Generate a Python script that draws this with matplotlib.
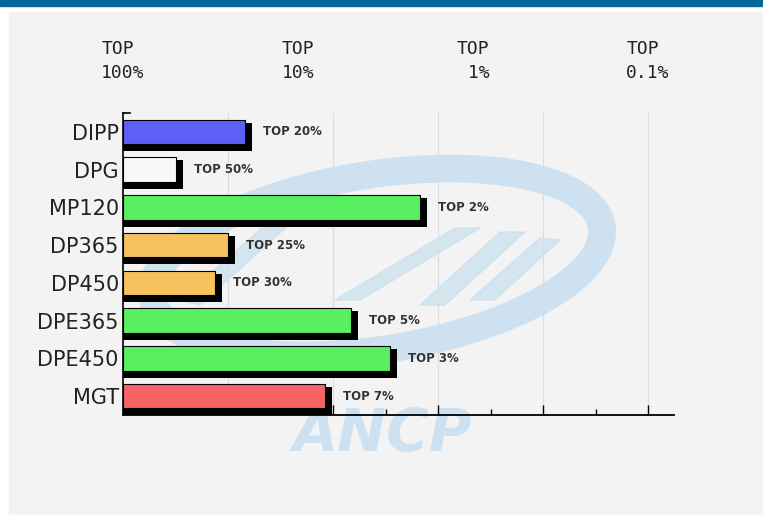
import numpy as np
import matplotlib
matplotlib.use("Agg")
import matplotlib.pyplot as plt
from matplotlib.patches import Rectangle, Ellipse, Polygon
from matplotlib.ticker import FixedLocator, NullFormatter
import matplotlib.transforms as mtransforms

# ---------------- data ----------------
categories = ["DIPP", "DPG", "MP120", "DP365", "DP450", "DPE365", "DPE450", "MGT"]
top_percent = [20, 50, 2, 25, 30, 5, 3, 7]          # "TOP x%" rank of each item
bar_labels = ["TOP 20%", "TOP 50%", "TOP 2%", "TOP 25%", "TOP 30%", "TOP 5%", "TOP 3%", "TOP 7%"]
bar_colors = ["#5f5ff8", "#f8f8f8", "#58f060", "#f5c25e", "#f5c25e", "#58f060", "#58f060", "#f86464"]
axis_percent = [100, 10, 1, 0.1]
axis_labels = ["TOP\n100%", "TOP\n10%", "TOP\n 1%", "TOP\n0.1%"]

W, H = 763, 518
fig = plt.figure(figsize=(W / 100, H / 100), dpi=100)

# ---------------- background / watermark ----------------
bg = fig.add_axes([0, 0, 1, 1])
bg.set_xlim(0, W)
bg.set_ylim(H, 0)
bg.axis("off")
bg.add_patch(Rectangle((0, 0), W, H, color="white", zorder=0))
bg.add_patch(Rectangle((0, 0), W, 5.5, color="#006699", zorder=1))
bg.add_patch(Rectangle((9, 12), W - 9, 502, color="#f3f3f3", zorder=1))

wm = "#c2dcef"
bg.add_patch(Ellipse((377, 262), 455, 175, angle=-9, fill=False,
                     edgecolor=wm, lw=20, alpha=0.75, zorder=2))
for pts in [
    [(335, 300), (360, 300), (480, 228), (455, 228)],
    [(420, 305), (445, 305), (525, 232), (500, 232)],
    [(470, 300), (495, 300), (560, 240), (540, 238)],
    [(180, 300), (200, 305), (300, 215), (280, 212)],
]:
    bg.add_patch(Polygon(pts, closed=True, color=wm, alpha=0.6, zorder=2))
bg.text(383, 434, "ANCP", fontsize=42, fontweight="bold", fontstyle="italic",
        color=wm, alpha=0.75, ha="center", va="center", zorder=2,
        family="DejaVu Sans")

# ---------------- main axes ----------------
left_px, right_px, top_px, bot_px = 123, 674, 113, 415
ax = fig.add_axes([left_px / W, 1 - bot_px / H, (right_px - left_px) / W,
                   (bot_px - top_px) / H])
ax.set_facecolor("none")
px_per_decade = 175.0
ax.set_xscale("log")
ax.set_xlim(100, 100 * 10 ** (-(right_px - left_px) / px_per_decade))
ax.set_ylim(len(categories) - 0.5, -0.5)

# grid lines and ticks every 0.6 decade, minor every 0.3 decade
major_d = np.arange(0.6, 3.01, 0.6)
minor_d = np.arange(0.3, 3.01, 0.6)
for d in major_d:
    ax.axvline(100 * 10 ** (-d), color="#dcdcdc", lw=0.8, zorder=0.5)
ax.xaxis.set_major_locator(FixedLocator(100 * 10 ** (-major_d)))
ax.xaxis.set_minor_locator(FixedLocator(100 * 10 ** (-minor_d)))
ax.xaxis.set_major_formatter(NullFormatter())
ax.xaxis.set_minor_formatter(NullFormatter())
ax.tick_params(axis="x", which="major", direction="in", length=7.5, width=1, color="black")
ax.tick_params(axis="x", which="minor", direction="in", length=4.5, width=1, color="black")
ax.yaxis.set_minor_locator(FixedLocator([]))

y = np.arange(len(categories))
bh = 0.65
vals = np.array(top_percent, dtype=float)

# shadows (3D extrusion)
for (dx, dy) in [(0, -7), (7, -3), (7, -7)]:
    tr = mtransforms.offset_copy(ax.transData, fig=fig, x=dx, y=dy, units="dots")
    for yi, v in zip(y, vals):
        r = Rectangle((100, yi - bh / 2), v - 100, bh, facecolor="black",
                      edgecolor="none", zorder=1.5, transform=tr)
        ax.add_patch(r)

ax.barh(y, vals - 100, left=100, height=bh, color=bar_colors,
        edgecolor="black", linewidth=0.8, zorder=2)

# bar value labels
lbl_tr = mtransforms.offset_copy(ax.transData, fig=fig, x=18, y=0, units="dots")
for yi, v, t in zip(y, vals, bar_labels):
    ax.text(v, yi, t, transform=lbl_tr, fontsize=8.5, fontweight="bold",
            color="#333333", ha="left", va="center", family="DejaVu Sans")

# y labels
ax.set_yticks(y)
ax.set_yticklabels(categories, fontsize=15, color="#222222", family="DejaVu Sans")
ax.tick_params(axis="y", length=0, pad=3)

for s in ["top", "right"]:
    ax.spines[s].set_visible(False)
ax.spines["left"].set_linewidth(1.2)
ax.spines["bottom"].set_linewidth(1.3)
ax.plot([0, 0.013], [1, 1], transform=ax.transAxes, color="black", lw=1.2,
        clip_on=False, zorder=3)

# top scale labels
top_tr = mtransforms.blended_transform_factory(ax.transData, fig.transFigure)
for p, t in zip(axis_percent, axis_labels):
    ax.text(p, 1 - 61 / H, t, transform=top_tr, fontsize=13, ha="center",
            va="center", multialignment="left", linespacing=1.45,
            family="DejaVu Sans Mono", color="#222222")

fig.savefig("out.png", dpi=100)
